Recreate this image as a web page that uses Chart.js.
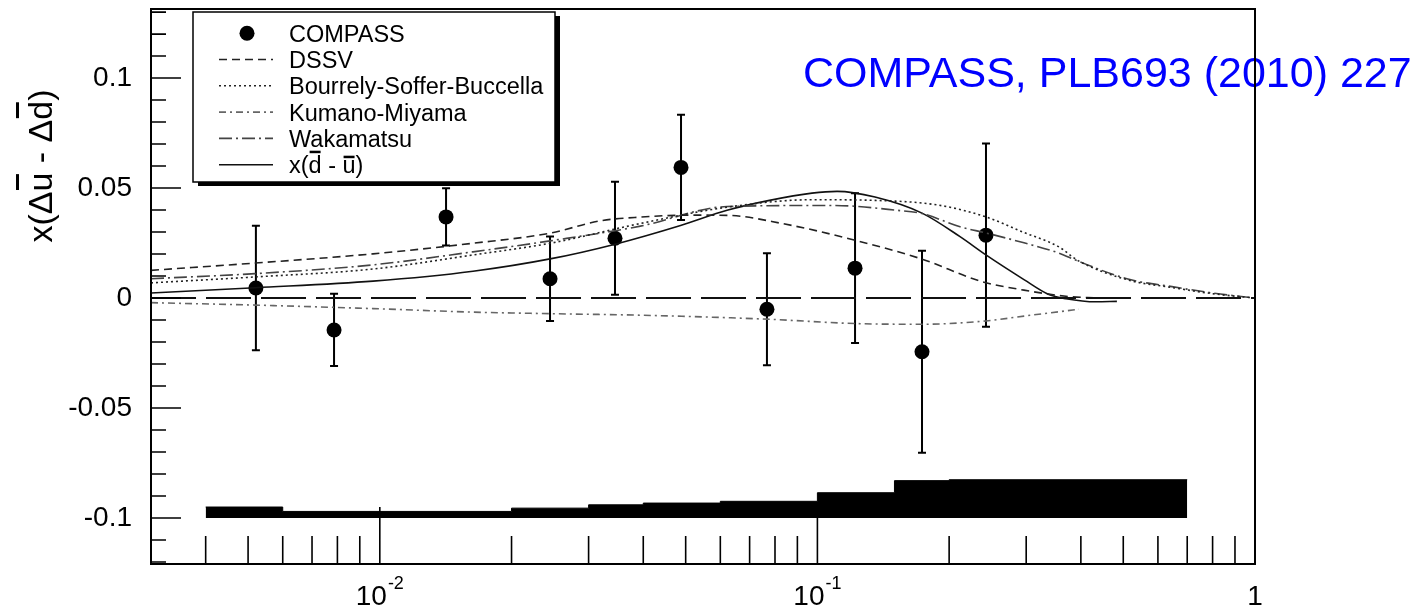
<!DOCTYPE html>
<html>
<head>
<meta charset="utf-8">
<script src="https://cdn.jsdelivr.net/npm/chart.js@4.4.1/dist/chart.umd.min.js"></script>
<style>
  html, body { margin: 0; background: #fff; }
  canvas { display: block; }
</style>
</head>
<body>
<canvas id="c" width="1419" height="610"></canvas>
<script>
/* ---- axis ranges and tick labels ---- */
const X_MIN = 0.003, X_MAX = 1;
const Y_MIN = -0.1209, Y_MAX = 0.1314;
const yTickValues = [-0.1, -0.05, 0, 0.05, 0.1];
const yTickLabels = ["-0.1", "-0.05", "0", "0.05", "0.1"];
const xLabelValues = [0.01, 0.1, 1];
const xLabelBase = ["10", "10", "1"];
const xLabelExp = ["-2", "-1", ""];

/* ---- COMPASS points (stat. errors) ---- */
const compassX = [0.00521, 0.00786, 0.01417, 0.02449, 0.03447, 0.04879, 0.07668, 0.1219, 0.1734, 0.2428];
const compassY = [0.0046, -0.0145, 0.0369, 0.0088, 0.0272, 0.0594, -0.0051, 0.0136, -0.0244, 0.0286];
const compassErr = [0.0283, 0.0164, 0.013, 0.0192, 0.0257, 0.0239, 0.0255, 0.034, 0.0459, 0.0417];

/* ---- systematic band: bin edges and tops, drawn up from -0.1 ---- */
const sysEdges = [0.004, 0.006, 0.02, 0.03, 0.04, 0.06, 0.1, 0.15, 0.2, 0.7];
const sysTop = [-0.095, -0.097, -0.0955, -0.094, -0.0932, -0.0924, -0.0885, -0.083, -0.0826];
const SYS_BASE = -0.1;

/* ---- zero reference ---- */
const zeroX = [0.003, 1];
const zeroY = [0, 0];

/* ---- model curves ---- */
const dssvX = [0.003, 0.00519, 0.00965, 0.01633, 0.02449, 0.0319, 0.0394, 0.0512, 0.06216, 0.083, 0.1213, 0.1734, 0.2365, 0.2965, 0.3698, 0.4419];
const dssvY = [0.0126, 0.0159, 0.0201, 0.0249, 0.0295, 0.0351, 0.0368, 0.0377, 0.0376, 0.0339, 0.0264, 0.0177, 0.0076, 0.0036, 0.0008, 0.0];

const bsbX = [0.003, 0.00519, 0.00965, 0.01633, 0.02449, 0.0394, 0.06216, 0.0972, 0.1354, 0.1896, 0.2427, 0.2965, 0.3546, 0.3961, 0.5179, 0.6459, 0.8058, 1.0];
const bsbY = [0.0069, 0.0096, 0.0132, 0.0196, 0.0249, 0.0339, 0.0413, 0.0447, 0.0444, 0.0422, 0.0369, 0.0298, 0.0235, 0.0168, 0.008, 0.0048, 0.0019, 0.0];

const kmX = [0.003, 0.00519, 0.00965, 0.01633, 0.02449, 0.0394, 0.0767, 0.1219, 0.1734, 0.2427, 0.2965, 0.3961];
const kmY = [-0.0021, -0.0032, -0.0048, -0.0064, -0.0071, -0.0078, -0.0096, -0.0116, -0.0119, -0.0104, -0.0082, -0.0051];

const wakX = [0.003, 0.00519, 0.00965, 0.01633, 0.02449, 0.0394, 0.06216, 0.1086, 0.152, 0.1734, 0.2118, 0.2427, 0.2965, 0.3546, 0.3961, 0.5179, 0.6459, 0.8058, 1.0];
const wakY = [0.0088, 0.0111, 0.0151, 0.021, 0.026, 0.0327, 0.0416, 0.0421, 0.0399, 0.0384, 0.0324, 0.0296, 0.0251, 0.0206, 0.0166, 0.0084, 0.0052, 0.0022, 0.0];

const duX = [0.003, 0.00519, 0.00965, 0.01633, 0.02449, 0.0345, 0.04867, 0.06216, 0.07771, 0.0972, 0.1109, 0.1354, 0.1734, 0.2118, 0.2427, 0.2965, 0.3381, 0.3698, 0.4329, 0.4835];
const duY = [0.0023, 0.0047, 0.0077, 0.0122, 0.0178, 0.0245, 0.033, 0.0399, 0.0444, 0.0477, 0.0485, 0.0459, 0.0386, 0.0279, 0.0196, 0.0084, 0.0016, -0.0003, -0.0017, -0.0015];

const FONT = '"Liberation Sans", Helvetica, Arial, sans-serif';
const toPoints = (xs, ys) => xs.map((x, i) => ({ x, y: ys[i] }));

function curve(label, xs, ys, color, dash) {
  return {
    label,
    data: toPoints(xs, ys),
    borderColor: color,
    borderWidth: 1.6,
    borderDash: dash,
    pointRadius: 0,
    fill: false,
    cubicInterpolationMode: "monotone",
  };
}

/* text with over-bars: parts = [[string, barHeightAboveBaseline or 0], ...] */
function barTextWidth(ctx, parts) {
  return parts.reduce((w, p) => w + ctx.measureText(p[0]).width, 0);
}
function drawBarText(ctx, parts, x, y, thick) {
  parts.forEach(([s, bar]) => {
    ctx.fillText(s, x, y);
    const w = ctx.measureText(s).width;
    if (bar) ctx.fillRect(x + w * 0.08, y - bar - thick, w * 0.84, thick);
    x += w;
  });
}

const datasets = [
  {
    label: "sys",
    data: sysEdges.map((x, i) => ({ x, y: sysTop[Math.min(i, sysTop.length - 1)] })),
    stepped: true,
    fill: { value: SYS_BASE },
    backgroundColor: "#000",
    borderColor: "#000",
    borderWidth: 1,
    pointRadius: 0,
  },
  {
    label: "zero",
    data: toPoints(zeroX, zeroY),
    borderColor: "#111",
    borderWidth: 2,
    borderDash: [45, 10],
    pointRadius: 0,
    fill: false,
  },
  curve("DSSV", dssvX, dssvY, "#222", [8, 5]),
  curve("Bourrely-Soffer-Buccella", bsbX, bsbY, "#222", [2, 3]),
  curve("Kumano-Miyama", kmX, kmY, "#666", [7, 4, 2, 4]),
  curve("Wakamatsu", wakX, wakY, "#444", [13, 4, 2, 4]),
  Object.assign(curve("x(d - u)", duX, duY, "#111", []), {
    legendParts: [["x(", 0], ["d", 20], [" - ", 0], ["u", 15], [")", 0]],
  }),
  {
    label: "COMPASS",
    data: toPoints(compassX, compassY),
    showLine: false,
    pointRadius: 7.5,
    pointBackgroundColor: "#000",
    pointBorderColor: "#000",
    pointBorderWidth: 0,
  },
];

const legendOrder = ["COMPASS", "DSSV", "Bourrely-Soffer-Buccella", "Kumano-Miyama", "Wakamatsu", "x(d - u)"];

const rootStyle = {
  id: "rootStyle",
  beforeDatasetsDraw(chart) {
    // statistical error bars with small end caps
    const { ctx, scales: { x, y } } = chart;
    ctx.save();
    ctx.strokeStyle = "#000";
    ctx.lineWidth = 2;
    compassX.forEach((cx, i) => {
      const px = x.getPixelForValue(cx);
      const top = y.getPixelForValue(compassY[i] + compassErr[i]);
      const bot = y.getPixelForValue(compassY[i] - compassErr[i]);
      ctx.beginPath();
      ctx.moveTo(px, top); ctx.lineTo(px, bot);
      ctx.moveTo(px - 4, top); ctx.lineTo(px + 4, top);
      ctx.moveTo(px - 4, bot); ctx.lineTo(px + 4, bot);
      ctx.stroke();
    });
    ctx.restore();
  },
  afterDraw(chart) {
    const { ctx, chartArea: a, scales: { x, y } } = chart;
    ctx.save();

    // reference tag
    ctx.fillStyle = "#0000ff";
    ctx.font = "43px " + FONT;
    ctx.textAlign = "left";
    ctx.textBaseline = "alphabetic";
    ctx.fillText("COMPASS, PLB693 (2010) 227", 803, 87);

    // legend box with drop shadow
    const L = { x: 193, y: 12, w: 362, h: 170 };
    ctx.fillStyle = "#000";
    ctx.fillRect(L.x + 5, L.y + 4, L.w, L.h);
    ctx.fillStyle = "#fff";
    ctx.fillRect(L.x, L.y, L.w, L.h);
    ctx.strokeStyle = "#000";
    ctx.lineWidth = 1.5;
    ctx.strokeRect(L.x, L.y, L.w, L.h);

    ctx.font = "23.5px " + FONT;
    legendOrder.forEach((name, k) => {
      const ds = chart.data.datasets.find((d) => d.label === name);
      const base = 41.7 + 26.3 * k;
      const sy = base - 8.5;
      if (ds.showLine === false) {
        ctx.fillStyle = ds.pointBackgroundColor;
        ctx.beginPath();
        ctx.arc(247, sy, ds.pointRadius, 0, Math.PI * 2);
        ctx.fill();
      } else {
        ctx.strokeStyle = ds.borderColor;
        ctx.lineWidth = ds.borderWidth;
        ctx.setLineDash(ds.borderDash || []);
        ctx.beginPath();
        ctx.moveTo(219, sy);
        ctx.lineTo(273, sy);
        ctx.stroke();
        ctx.setLineDash([]);
      }
      ctx.fillStyle = "#000";
      if (ds.legendParts) drawBarText(ctx, ds.legendParts, 289, base, 2.5);
      else ctx.fillText(name, 289, base);
    });

    // inward ticks
    ctx.strokeStyle = "#000";
    ctx.lineWidth = 1.6;
    ctx.beginPath();
    for (let k = -13; k <= 14; k++) {
      const v = k / 100;
      if (v < Y_MIN || v > Y_MAX) continue;
      const py = y.getPixelForValue(v);
      const len = k % 5 === 0 ? 30 : 15;
      ctx.moveTo(a.left, py);
      ctx.lineTo(a.left + len, py);
    }
    for (let e = -3; e <= 0; e++) {
      for (let m = 1; m <= 9; m++) {
        const v = m * Math.pow(10, e);
        if (v < X_MIN * 0.999 || v > X_MAX * 1.001) continue;
        const px = x.getPixelForValue(v);
        const len = m === 1 ? 57 : 28;
        ctx.moveTo(px, a.bottom);
        ctx.lineTo(px, a.bottom - len);
      }
    }
    ctx.stroke();

    // frame
    ctx.lineWidth = 2;
    ctx.strokeRect(a.left, a.top, a.right - a.left, a.bottom - a.top);

    // y tick labels
    ctx.fillStyle = "#000";
    ctx.font = "28px " + FONT;
    ctx.textAlign = "right";
    ctx.textBaseline = "middle";
    yTickValues.forEach((v, i) => {
      ctx.fillText(yTickLabels[i], a.left - 19, y.getPixelForValue(v));
    });

    // x tick labels, 10 with raised exponent
    ctx.textAlign = "left";
    ctx.textBaseline = "alphabetic";
    xLabelValues.forEach((v, i) => {
      ctx.font = "28px " + FONT;
      const wb = ctx.measureText(xLabelBase[i]).width;
      ctx.font = "18px " + FONT;
      const we = xLabelExp[i] ? ctx.measureText(xLabelExp[i]).width + 1 : 0;
      const left = x.getPixelForValue(v) - (wb + we) / 2;
      ctx.font = "28px " + FONT;
      ctx.fillText(xLabelBase[i], left, 605);
      if (xLabelExp[i]) {
        ctx.font = "18px " + FONT;
        ctx.fillText(xLabelExp[i], left + wb + 1, 589);
      }
    });

    // y axis title, rotated
    ctx.translate(52, 166);
    ctx.rotate(-Math.PI / 2);
    ctx.font = "34px " + FONT;
    const title = [["x(\u0394", 0], ["u", 33], [" - \u0394", 0], ["d", 33], [")", 0]];
    const tw = barTextWidth(ctx, title);
    drawBarText(ctx, title, -tw / 2, 0, 3);

    ctx.restore();
  },
};

new Chart(document.getElementById("c"), {
  type: "line",
  data: { datasets },
  options: {
    responsive: false,
    animation: false,
    events: [],
    layout: { padding: { left: 151, top: 9, right: 164, bottom: 46 } },
    plugins: { legend: { display: false }, tooltip: { enabled: false } },
    scales: {
      x: { type: "logarithmic", min: X_MIN, max: X_MAX, display: false },
      y: { type: "linear", min: Y_MIN, max: Y_MAX, display: false },
    },
  },
  plugins: [rootStyle],
});
</script>
</body>
</html>
